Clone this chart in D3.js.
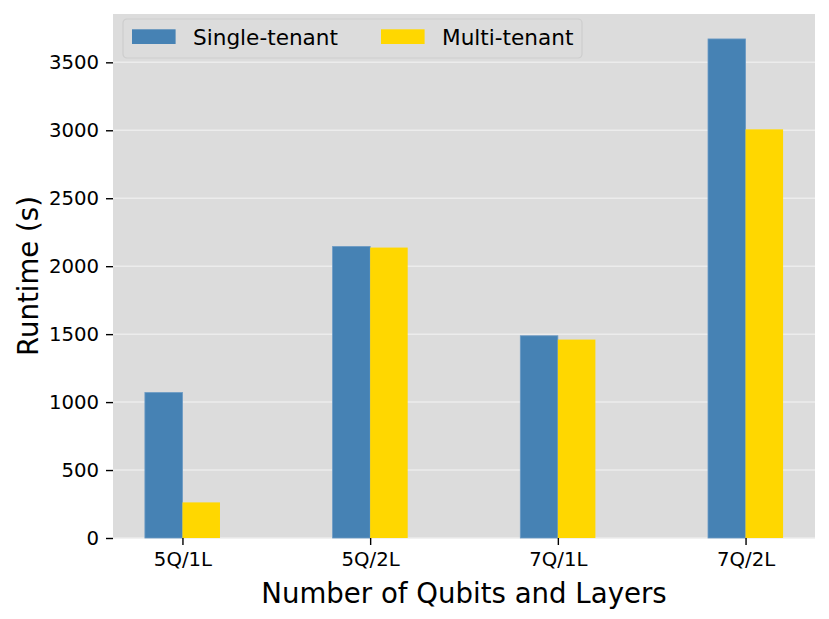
<!DOCTYPE html>
<html>
<head>
<meta charset="utf-8">
<script src="https://cdn.jsdelivr.net/npm/d3@7"></script>
<style>
  body { margin: 0; background: #fff; }
  text { font-family: "DejaVu Sans", sans-serif; fill: #000; }
</style>
</head>
<body>
<div id="chart"></div>
<script>
// Data
const categories = ["5Q/1L", "5Q/2L", "7Q/1L", "7Q/2L"];
const seriesNames = ["Single-tenant", "Multi-tenant"];
const singleTenant = [1070, 2145, 1488, 3672];
const multiTenant = [262, 2137, 1460, 3007];
const yTicks = [0, 500, 1000, 1500, 2000, 2500, 3000, 3500];

const colors = ["#4682b4", "#ffd700"];

const W = 829, H = 619;
const margin = { top: 14, right: 14, bottom: 81, left: 113 };
const width = W - margin.left - margin.right;
const height = H - margin.top - margin.bottom;

const svg = d3.select("#chart")
    .append("svg")
    .attr("width", W)
    .attr("height", H);

const g = svg.append("g")
    .attr("transform", `translate(${margin.left},${margin.top})`);

// bar width 0.2 in category units, matplotlib style margins
const barW = 0.2;
const x = d3.scaleLinear()
    .domain([-0.37, categories.length - 1 + 0.37])
    .range([0, width]);

const maxV = d3.max(singleTenant.concat(multiTenant));
const y = d3.scaleLinear()
    .domain([0, maxV * 1.05])
    .range([height, 0]);

// background
g.append("rect")
    .attr("width", width)
    .attr("height", height)
    .attr("fill", "#dcdcdc");

// gridlines
g.selectAll("line.grid")
    .data(yTicks)
    .enter().append("line")
    .attr("class", "grid")
    .attr("x1", 0)
    .attr("x2", width)
    .attr("y1", d => y(d))
    .attr("y2", d => y(d))
    .attr("stroke", "#ececec")
    .attr("stroke-width", 1.5);

// bars
const series = [singleTenant, multiTenant];
series.forEach((vals, si) => {
    g.selectAll("rect.s" + si)
        .data(vals)
        .enter().append("rect")
        .attr("class", "s" + si)
        .attr("x", (d, i) => x(i - barW + si * barW))
        .attr("width", x(barW) - x(0))
        .attr("y", d => y(d))
        .attr("height", d => y(0) - y(d))
        .attr("fill", colors[si])
        .attr("stroke", si === 0 ? "#6a9ac4" : "none")
        .attr("stroke-width", 0.8);
});

// y axis
const yAxis = d3.axisLeft(y)
    .tickValues(yTicks)
    .tickFormat(d3.format("d"))
    .tickSize(7)
    .tickPadding(7);
const ya = g.append("g").call(yAxis);
ya.select(".domain").remove();
ya.selectAll("text").style("font-size", "19.7px");
ya.selectAll("line").attr("stroke", "#000").attr("stroke-width", 1.4);

// x axis
const xAxis = d3.axisBottom(x)
    .tickValues(d3.range(categories.length))
    .tickFormat(i => categories[i])
    .tickSize(7)
    .tickPadding(7);
const xa = g.append("g")
    .attr("transform", `translate(0,${height})`)
    .call(xAxis);
xa.select(".domain").remove();
xa.selectAll("text").style("font-size", "19.7px");
xa.selectAll("line").attr("stroke", "#000").attr("stroke-width", 1.4);

// axis titles
svg.append("text")
    .attr("x", margin.left + width / 2)
    .attr("y", 603)
    .attr("text-anchor", "middle")
    .style("font-size", "27.6px")
    .text("Number of Qubits and Layers");

svg.append("text")
    .attr("transform", `translate(38,${margin.top + height / 2}) rotate(-90)`)
    .attr("text-anchor", "middle")
    .style("font-size", "27.6px")
    .text("Runtime (s)");

// legend
const legend = svg.append("g").attr("transform", "translate(123,19)");
legend.append("rect")
    .attr("width", 459)
    .attr("height", 39)
    .attr("rx", 4)
    .attr("fill", "#dcdcdc")
    .attr("stroke", "#cdcdcd")
    .attr("stroke-width", 1.2);

const legendX = [9, 258];
seriesNames.forEach((name, i) => {
    const item = legend.append("g").attr("transform", `translate(${legendX[i]},0)`);
    item.append("rect")
        .attr("x", 0)
        .attr("y", 10.3)
        .attr("width", 43.6)
        .attr("height", 14.7)
        .attr("fill", colors[i]);
    item.append("text")
        .attr("x", 61)
        .attr("y", 25.5)
        .style("font-size", "21.6px")
        .text(name);
});
</script>
</body>
</html>
